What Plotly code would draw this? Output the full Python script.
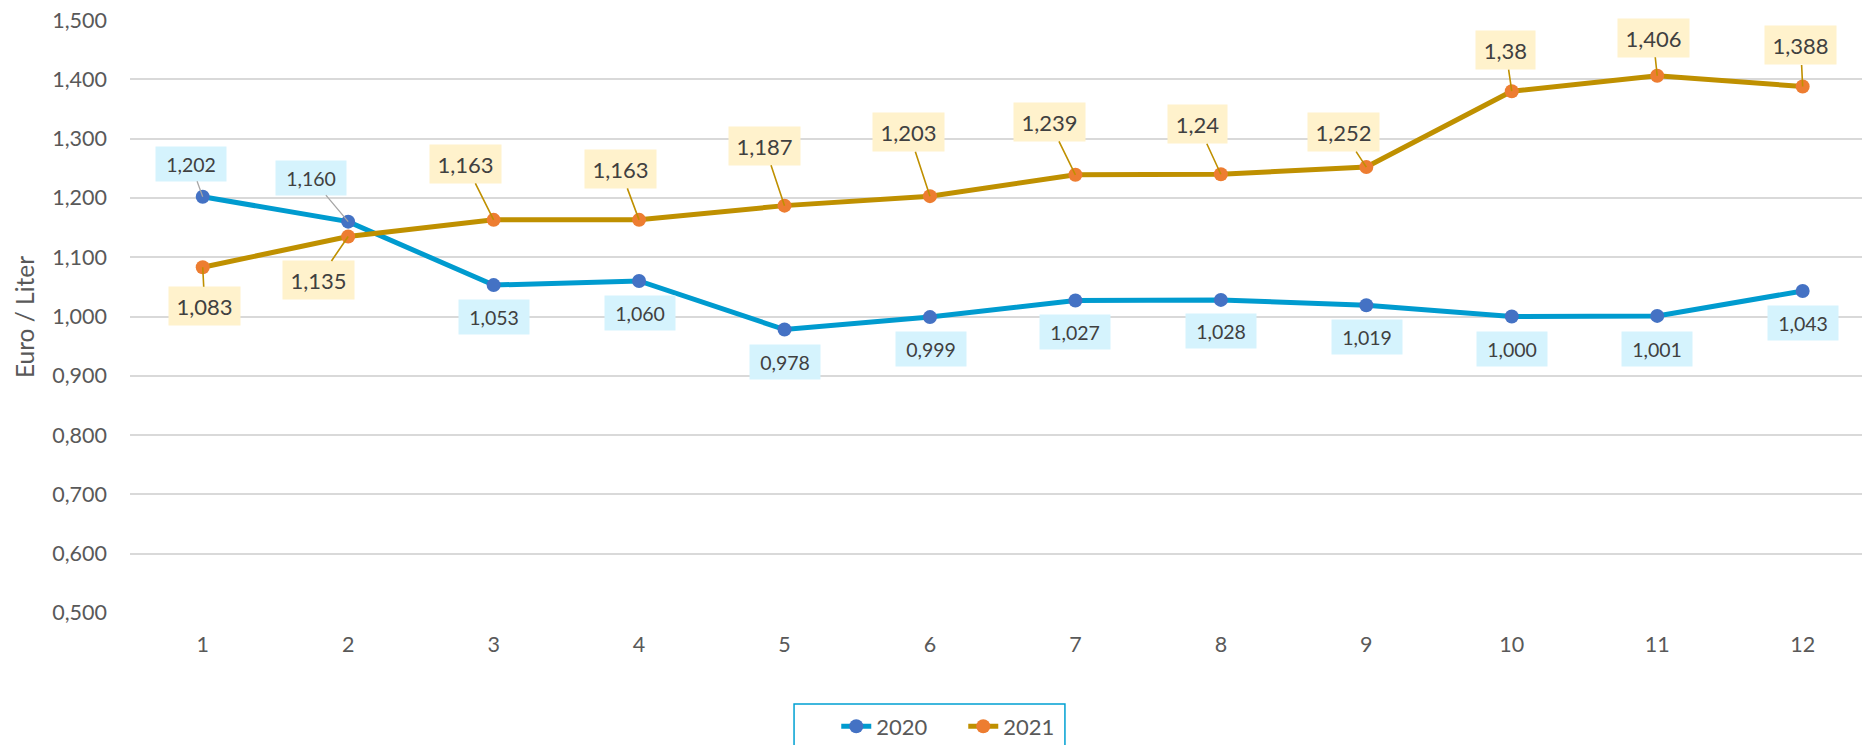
import plotly.graph_objects as go

# ---- data ----
months = [1, 2, 3, 4, 5, 6, 7, 8, 9, 10, 11, 12]
price_2020 = [1.202, 1.160, 1.053, 1.060, 0.978, 0.999, 1.027, 1.028, 1.019, 1.000, 1.001, 1.043]
price_2021 = [1.083, 1.135, 1.163, 1.163, 1.187, 1.203, 1.239, 1.24, 1.252, 1.38, 1.406, 1.388]
labels_2020 = ["1,202", "1,160", "1,053", "1,060", "0,978", "0,999", "1,027", "1,028", "1,019", "1,000", "1,001", "1,043"]
labels_2021 = ["1,083", "1,135", "1,163", "1,163", "1,187", "1,203", "1,239", "1,24", "1,252", "1,38", "1,406", "1,388"]
y_ticks = [0.5, 0.6, 0.7, 0.8, 0.9, 1.0, 1.1, 1.2, 1.3, 1.4, 1.5]

# ---- label placement (pixel offsets of label box centre from point) ----
off_2020 = [(-12, -33), (-37, -44), (0, 32), (1, 32), (0, 32), (1, 32), (0, 32), (0, 31), (1, 32), (0, 32), (0, 33), (0, 32)]
lead_2020 = [True, True, False, False, False, False, False, False, False, False, False, False]
off_2021 = [(2, 39), (-30, 44), (-28, -56), (-19, -51), (-20, -60), (-21, -64), (-26, -53), (-23, -50), (-23, -35), (-6, -41), (-4, -38), (-2, -41)]

FONT = "Lato"
C_LINE20 = "#009BCF"
C_MARK20 = "#4472C4"
C_LINE21 = "#BF9000"
C_MARK21 = "#ED7D31"
C_BG20 = "#D5F3FD"
C_BG21 = "#FFF2CC"

fig = go.Figure()
fig.add_trace(go.Scatter(
    x=months, y=price_2020, name="2020", mode="lines+markers",
    line=dict(color=C_LINE20, width=5),
    marker=dict(color=C_MARK20, size=14, line=dict(width=0)),
))
fig.add_trace(go.Scatter(
    x=months, y=price_2021, name="2021", mode="lines+markers",
    line=dict(color=C_LINE21, width=5),
    marker=dict(color=C_MARK21, size=14, line=dict(width=0)),
))

annotations = []
for xv, yv, txt, (dx, dy), lead in zip(months, price_2020, labels_2020, off_2020, lead_2020):
    annotations.append(dict(
        x=xv, y=yv, xref="x", yref="y", text=txt, showarrow=True,
        ax=dx, ay=dy, axref="pixel", ayref="pixel",
        arrowhead=0, arrowwidth=1.3, standoff=0,
        arrowcolor="#A6A6A6" if lead else "rgba(0,0,0,0)",
        bgcolor=C_BG20, borderpad=4, width=62, height=26,
        font=dict(family=FONT, size=19.5, color="#404040"),
    ))
for xv, yv, txt, (dx, dy) in zip(months, price_2021, labels_2021, off_2021):
    annotations.append(dict(
        x=xv, y=yv, xref="x", yref="y", text=txt, showarrow=True,
        ax=dx, ay=dy, axref="pixel", ayref="pixel",
        arrowhead=0, arrowwidth=1.6, standoff=0, arrowcolor=C_LINE21,
        bgcolor=C_BG21, borderpad=4, width=(63 if len(txt) == 5 else 51), height=30,
        font=dict(family=FONT, size=22, color="#404040"),
    ))

annotations.append(dict(
    x=-0.0612, y=0.499, xref="paper", yref="paper", text="Euro / Liter",
    textangle=-90, showarrow=False, xanchor="center", yanchor="middle",
    font=dict(family=FONT, size=24.5, color="#595959"),
))

fig.update_layout(
    width=1862, height=745,
    margin=dict(l=130, r=0, t=20, b=132, autoexpand=False),
    paper_bgcolor="white", plot_bgcolor="white",
    separators=",.",
    font=dict(family=FONT, size=21.5, color="#595959"),
    annotations=annotations,
    showlegend=True,
    legend=dict(
        orientation="h", x=0.4811, xanchor="center", y=-0.156, yanchor="top",
        bgcolor="rgba(0,0,0,0)", borderwidth=0,
        entrywidth=82, entrywidthmode="pixels",
        font=dict(family=FONT, size=22, color="#595959"),
    ),
    shapes=[dict(
        type="rect", xref="paper", yref="paper",
        x0=0.3834, x1=0.5398, y0=-0.1535, y1=-0.26,
        line=dict(color="#00A0D2", width=1.5), fillcolor="rgba(0,0,0,0)",
    )],
)
fig.update_xaxes(
    range=[0.5, 12.408], tickvals=months, showgrid=False, zeroline=False,
    showline=False, ticks="", ticklabelstandoff=16,
    tickfont=dict(family=FONT, size=21.5, color="#595959"),
)
fig.update_yaxes(
    range=[0.4999, 1.5001], tickvals=y_ticks, tickformat=".3f",
    showgrid=True, gridcolor="#D9D9D9", gridwidth=1.5, zeroline=False,
    showline=False, ticks="", ticklabelstandoff=22,
    tickfont=dict(family=FONT, size=21.5, color="#595959"),
)

fig.write_html("out.html", config={"displayModeBar": False},
               post_script="document.body.style.margin='0px';")
